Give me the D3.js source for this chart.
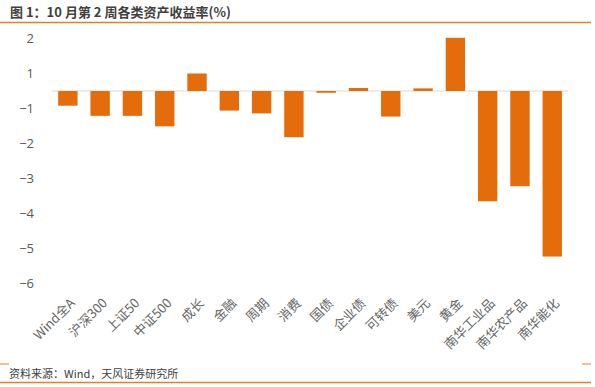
<!DOCTYPE html>
<html>
<head>
<meta charset="utf-8">
<script src="https://cdn.jsdelivr.net/npm/d3@7"></script>
<style>
  body { margin: 0; background: #fff; }
  svg { display: block; }
</style>
</head>
<body>
<script>
// ---------------------------------- DATA ----------------------------------
var categories = ['Wind全A', '沪深300', '上证50', '中证500', '成长', '金融', '周期', '消费',
                  '国债', '企业债', '可转债', '美元', '黄金', '南华工业品', '南华农产品', '南华能化']
var returns = [-0.84, -1.21, -1.21, -1.51, 1.0, -1.06, -1.14, -1.82,
               -0.1, 0.17, -1.23, 0.15, 2.02, -3.65, -3.22, -5.23]
var tickValues = [2, 1, -1, -2, -3, -4, -5, -6]

var title = '图 1：10 月第 2 周各类资产收益率(%)'
var source = '资料来源：Wind，天风证券研究所'

// ---------------------------------- SVG ----------------------------------
var width = 595
var height = 387

var svg = d3.select('body')
    .append('svg')
    .attr('width', width)
    .attr('height', height)

svg.append('rect')
    .attr('width', '100%')
    .attr('height', '100%')
    .attr('fill', '#fff')

var orange = '#EE7D22'

// title + frame lines
svg.append('text')
    .attr('x', 10)
    .attr('y', 16.5)
    .attr('font-family', '"Noto Sans CJK SC", "Noto Sans", sans-serif')
    .attr('font-size', 13)
    .attr('font-weight', 'bold')
    .attr('fill', '#404040')
    .text(title)

svg.append('line')
    .attr('x1', 0).attr('x2', 591)
    .attr('y1', 22.5).attr('y2', 22.5)
    .attr('stroke', orange).attr('stroke-width', 1.5)

svg.append('line')
    .attr('x1', 0).attr('x2', 9)
    .attr('y1', 364).attr('y2', 364)
    .attr('stroke', orange).attr('stroke-width', 1)

svg.append('line')
    .attr('x1', 582).attr('x2', 591)
    .attr('y1', 364).attr('y2', 364)
    .attr('stroke', orange).attr('stroke-width', 1)

svg.append('line')
    .attr('x1', 0).attr('x2', 591)
    .attr('y1', 382.5).attr('y2', 382.5)
    .attr('stroke', orange).attr('stroke-width', 1.5)

svg.append('text')
    .attr('x', 9)
    .attr('y', 377.5)
    .attr('font-family', '"Noto Sans CJK SC", "Noto Sans", sans-serif')
    .attr('font-size', 11)
    .attr('fill', '#404040')
    .text(source)

// ---------------------------------- SCALES ----------------------------------
// value axis: the labels sit half a step away from the zero line
var y = d3.scaleLinear()
    .domain([-6, -1, 0, 1, 2])
    .range([283.5, 108.5, 91, 73.5, 38.5])

var x = d3.scaleBand()
    .domain(categories)
    .range([51.7, 568.4])
    .paddingInner(0.4)
    .paddingOuter(0.2)

// ---------------------------------- AXES ----------------------------------
var yAxis = svg.append('g')
    .attr('transform', 'translate(34,0)')
    .call(d3.axisLeft(y).tickValues(tickValues).tickSize(0).tickPadding(0).tickFormat(d3.format('d')))

yAxis.select('.domain').remove()
yAxis.selectAll('text')
    .attr('font-family', '"Open Sans", "Noto Sans", sans-serif')
    .attr('font-size', 13)
    .attr('fill', '#595959')

// zero line
svg.append('line')
    .attr('x1', 51.7).attr('x2', 568.4)
    .attr('y1', y(0)).attr('y2', y(0))
    .attr('stroke', '#d9d9d9').attr('stroke-width', 1.2)

// ---------------------------------- BARS ----------------------------------
svg.append('g')
    .selectAll('rect')
    .data(returns)
    .enter()
    .append('rect')
    .attr('x', function(d, i){ return x(categories[i]) })
    .attr('width', x.bandwidth())
    .attr('y', function(d){ return Math.min(y(d), y(0)) })
    .attr('height', function(d){ return Math.abs(y(d) - y(0)) })
    .attr('fill', '#E46C0A')

// category labels, rotated
svg.append('g')
    .selectAll('text')
    .data(categories)
    .enter()
    .append('text')
    .attr('transform', function(d){
        return 'translate(' + (x(d) + x.bandwidth() / 2 + 8) + ',304) rotate(-45)'
    })
    .attr('text-anchor', 'end')
    .attr('font-family', '"Noto Sans CJK SC", sans-serif')
    .attr('font-size', 13)
    .attr('fill', '#666666')
    .text(function(d){ return d })
</script>
</body>
</html>
